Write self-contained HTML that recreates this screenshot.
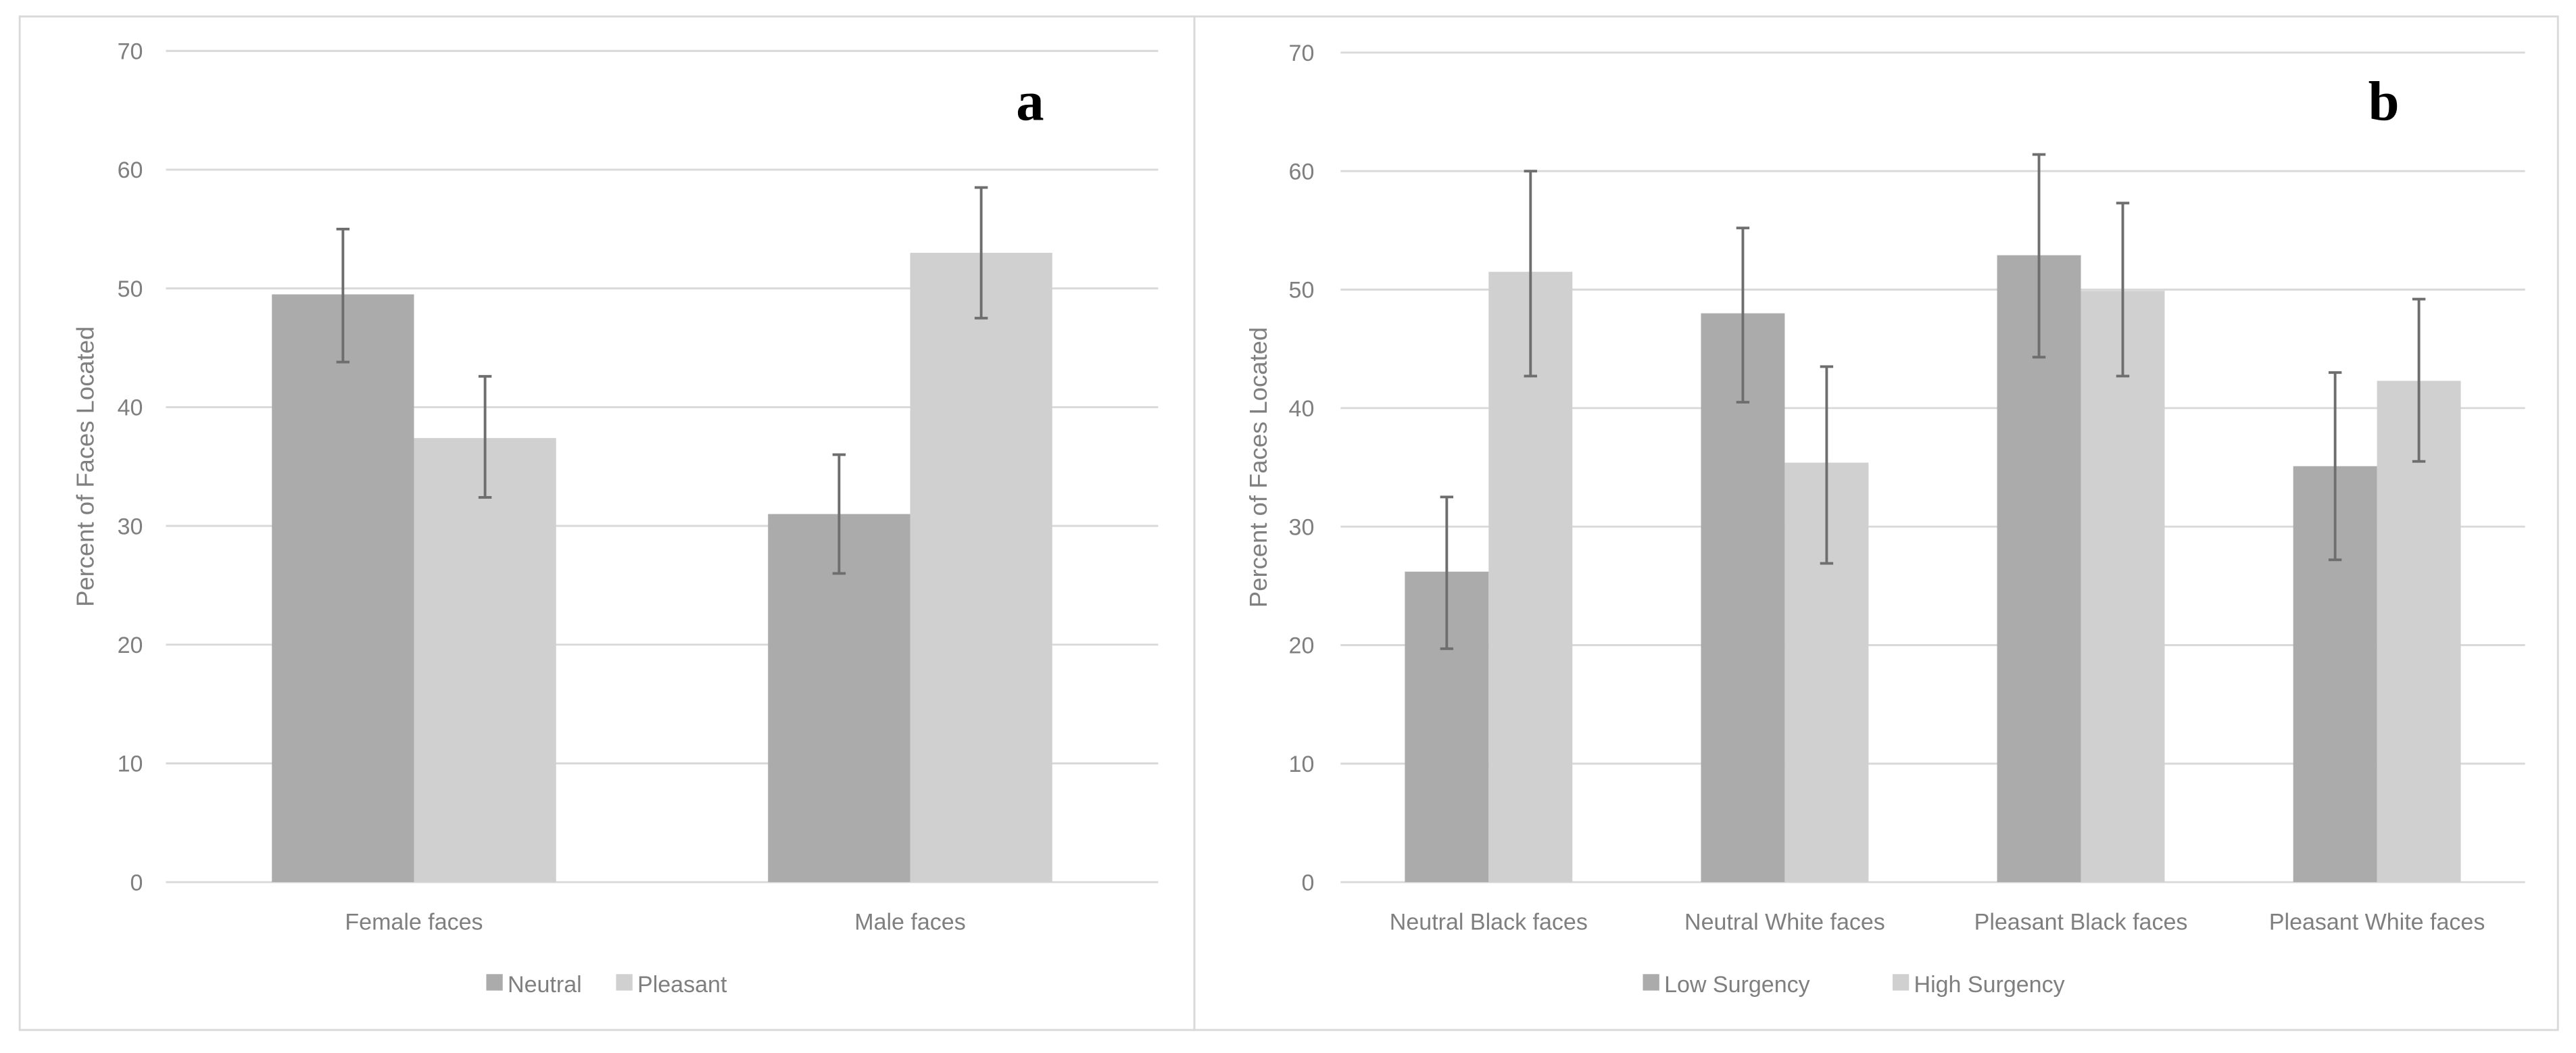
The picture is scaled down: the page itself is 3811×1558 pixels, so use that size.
<!DOCTYPE html>
<html><head><meta charset="utf-8"><style>
html,body{margin:0;padding:0;background:#fff;}
svg{display:block;font-family:"Liberation Sans",sans-serif;}
</style></head><body>
<svg id="fig" width="3811" height="1558" viewBox="0 0 1568 641" xmlns="http://www.w3.org/2000/svg">
<rect x="0" y="0" width="1568" height="641" fill="#fff"/>
<rect x="12" y="10" width="715" height="617" fill="none" stroke="#d9d9d9" stroke-width="1.2"/>
<rect x="727" y="10" width="830" height="617" fill="none" stroke="#d9d9d9" stroke-width="1.2"/>
<text x="627" y="73" font-family="Liberation Serif,serif" font-weight="bold" font-size="34" text-anchor="middle" fill="#000">a</text>
<text x="1451" y="73" font-family="Liberation Serif,serif" font-weight="bold" font-size="34" text-anchor="middle" fill="#000">b</text>
<g id="ga"></g><g id="gb"></g>
</svg>
<script>
// Panel a data
const catsA = ["Female faces","Male faces"];
const seriesA = ["Neutral","Pleasant"];
const neutralA = [49.5, 31.0];
const pleasantA = [37.4, 53.0];
const neutralErrLoA = [43.8, 26.0];
const neutralErrHiA = [55.0, 36.0];
const pleasantErrLoA = [32.4, 47.5];
const pleasantErrHiA = [42.6, 58.5];
// Panel b data
const catsB = ["Neutral Black faces","Neutral White faces","Pleasant Black faces","Pleasant White faces"];
const seriesB = ["Low Surgency","High Surgency"];
const lowB = [26.2, 48.0, 52.9, 35.1];
const highB = [51.5, 35.4, 49.9, 42.3];
const lowErrLoB = [19.7, 40.5, 44.3, 27.2];
const lowErrHiB = [32.5, 55.2, 61.4, 43.0];
const highErrLoB = [42.7, 26.9, 42.7, 35.5];
const highErrHiB = [60.0, 43.5, 57.3, 49.2];
const yTicks = [0,10,20,30,40,50,60,70];

const NS="http://www.w3.org/2000/svg";
function mk(parent, tag, attrs, txt){
  const e=document.createElementNS(NS,tag);
  for(const k in attrs) e.setAttribute(k,attrs[k]);
  if(txt!==undefined) e.textContent=txt;
  parent.appendChild(e); return e;
}
const COLORS=["#ababab","#d0d0d0"];

function drawPanel(g, cfg, cats, vals, los, his, series){
  const y = v => cfg.y0 + (cfg.y70 - cfg.y0)*v/70;
  const bandW = (cfg.x1 - cfg.x0)/cats.length;
  const xc = i => cfg.x0 + bandW*(i+0.5);
  yTicks.forEach(t=>{
    const l=mk(g,'line',{x1:cfg.x0,x2:cfg.x1,y1:y(t),y2:y(t),stroke:'#d9d9d9','stroke-width':1.2});
    
    
    const tx=mk(g,'text',{x:cfg.tickX,y:y(t)+5,'font-size':14,fill:'#7f7f7f','text-anchor':'end'},String(t));
    
    
  });
  const tt=mk(g,'text',{x:0,y:0,'font-size':15,fill:'#7f7f7f','text-anchor':'middle',transform:`translate(${cfg.titleX},${(y(0)+y(70))/2}) rotate(-90)`},'Percent of Faces Located');
  
  
  cats.forEach((c,i)=>{
    vals.forEach((sv,s)=>{
      const bx = xc(i) - cfg.barW + s*cfg.barW;
      const r=mk(g,'rect',{x:bx,y:y(sv[i]),width:cfg.barW,height:y(0)-y(sv[i]),fill:COLORS[s]});
      
      
      const ex = bx + cfg.barW/2;
      const eg=mk(g,'g',{stroke:'#6e6e6e','stroke-width':1.6});
      
      
      mk(eg,'line',{x1:ex,x2:ex,y1:y(los[s][i]),y2:y(his[s][i])});
      mk(eg,'line',{x1:ex-4,x2:ex+4,y1:y(los[s][i]),y2:y(los[s][i])});
      mk(eg,'line',{x1:ex-4,x2:ex+4,y1:y(his[s][i]),y2:y(his[s][i])});
    });
    const ct=mk(g,'text',{x:xc(i),y:cfg.catY,'font-size':14,fill:'#7f7f7f','text-anchor':'middle'},c);
    
    
  });
  series.forEach((s,k)=>{
    const lg=mk(g,'g',{});
    
    
    mk(lg,'rect',{x:cfg.legX[k],y:593,width:10,height:10,fill:COLORS[k]});
    mk(lg,'text',{x:cfg.legX[k]+13,y:604,'font-size':14,fill:'#7f7f7f'},s);
  });
}
drawPanel(document.getElementById('ga'),
  {x0:101,x1:705,y0:537,y70:31,tickX:87,titleX:57,barW:86.5,catY:566,legX:[296,375]},
  catsA,[neutralA,pleasantA],[neutralErrLoA,pleasantErrLoA],[neutralErrHiA,pleasantErrHiA],seriesA);
drawPanel(document.getElementById('gb'),
  {x0:816,x1:1537,y0:537,y70:32,tickX:800,titleX:771,barW:51,catY:566,legX:[1000,1152]},
  catsB,[lowB,highB],[lowErrLoB,highErrLoB],[lowErrHiB,highErrHiB],seriesB);
</script>
</body></html>
